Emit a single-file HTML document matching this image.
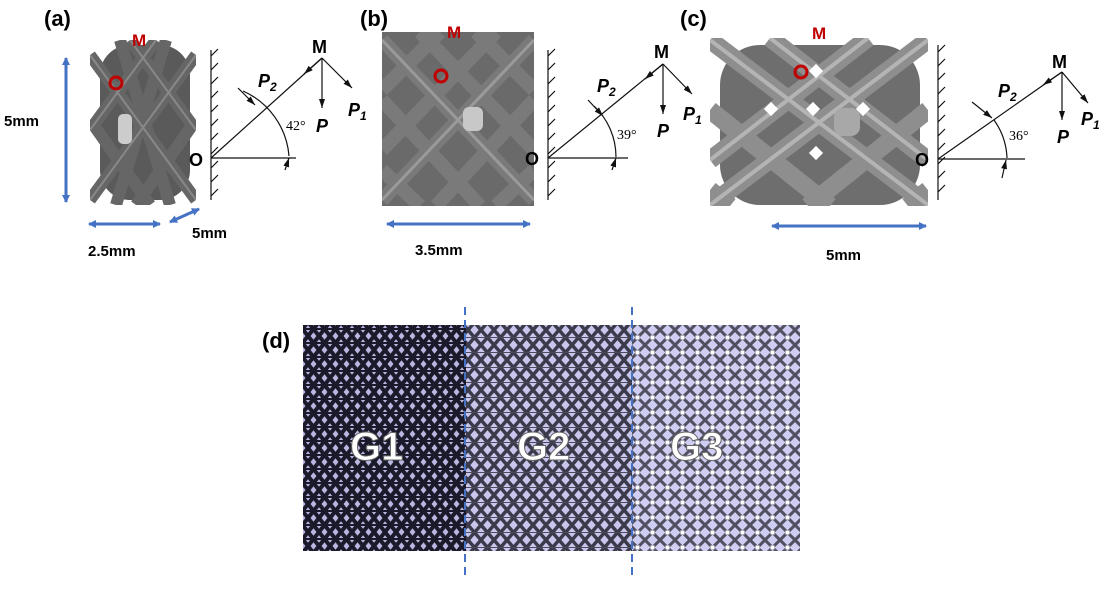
<!DOCTYPE html>
<html><head><meta charset="utf-8"><style>
html,body{margin:0;padding:0;background:#fff;}
svg{display:block;font-family:"Liberation Sans",Arial,sans-serif;}
</style></head><body>
<svg width="1113" height="590" viewBox="0 0 1113 590" xmlns="http://www.w3.org/2000/svg">
<defs>
<marker id="ab" markerWidth="8" markerHeight="8" refX="7" refY="4" orient="auto-start-reverse" markerUnits="userSpaceOnUse"><path d="M0,0 L8,4 L0,8 z" fill="#4472c4"/></marker>
<marker id="ak" markerWidth="9" markerHeight="7" refX="9" refY="3.5" orient="auto" markerUnits="userSpaceOnUse"><path d="M0,0.5 L9,3.5 L0,6.5 z" fill="#111"/></marker>
<pattern id="g1" width="11" height="14" patternUnits="userSpaceOnUse">
<rect width="11" height="14" fill="#b9b6e0"/>
<path d="M0,0 L11,14 M11,0 L0,14 M-5.5,7 L5.5,21 M5.5,-7 L16.5,7 M5.5,7 L-5.5,21 M16.5,7 L5.5,-7" stroke="#1a1a2a" stroke-width="4"/>
<path d="M0,7 L11,7" stroke="#1a1a2a" stroke-width="2"/>
</pattern>
<pattern id="g2" width="13" height="15" patternUnits="userSpaceOnUse">
<rect width="13" height="15" fill="#c8c6ec"/>
<path d="M0,0 L13,15 M13,0 L0,15" stroke="#3a3a4a" stroke-width="3.5"/>
<path d="M0,7.5 L13,7.5" stroke="#4a4a5a" stroke-width="1"/>
</pattern>
<pattern id="g3" width="15" height="15" patternUnits="userSpaceOnUse">
<rect width="15" height="15" fill="#cfcdf2"/>
<path d="M0,0 L15,15 M15,0 L0,15" stroke="#505060" stroke-width="3"/>
<rect x="5.5" y="5.5" width="4" height="4" fill="#fff"/>
</pattern>
<clipPath id="ca"><path d="M90,40 L196,40 L196,205 L90,205 Z"/></clipPath>
<clipPath id="cb"><rect x="382" y="32" width="152" height="174"/></clipPath>
<clipPath id="cc"><rect x="710" y="38" width="218" height="168"/></clipPath>
</defs>

<!-- labels -->
<text x="44" y="26" font-size="22" font-weight="bold">(a)</text>
<text x="360" y="26" font-size="22" font-weight="bold">(b)</text>
<text x="680" y="26" font-size="22" font-weight="bold">(c)</text>
<text x="262" y="348" font-size="22" font-weight="bold">(d)</text>

<!-- lattice a -->
<g clip-path="url(#ca)">
<rect x="100" y="45" width="90" height="155" rx="30" fill="#5a5a5a"/>
<g stroke="#666" stroke-width="12" stroke-linecap="butt">
<path d="M90,55 L196,200 M90,120 L150,205 M130,40 L196,130 M196,55 L90,200 M196,120 L136,205 M156,40 L90,130 M120,40 L170,205 M166,40 L116,205"/>
</g>
<g stroke="#888" stroke-width="2">
<path d="M90,55 L196,200 M196,55 L90,200 M130,40 L196,130 M156,40 L90,130"/>
</g>
<rect x="118" y="114" width="14" height="30" rx="5" fill="#ccc"/>
</g>
<text x="132" y="46" font-size="17" font-weight="bold" fill="#c00000">M</text>
<circle cx="116" cy="83" r="6" fill="none" stroke="#c00000" stroke-width="3"/>

<!-- lattice b -->
<g clip-path="url(#cb)">
<rect x="382" y="32" width="152" height="174" fill="#6a6a6a"/>
<g stroke="#7a7a7a" stroke-width="14">
<path d="M382,40 L534,200 M382,100 L480,206 M420,32 L534,150 M534,40 L382,200 M534,100 L436,206 M496,32 L382,150 M382,170 L420,206 M534,170 L496,206 M440,32 L382,90 M476,32 L534,90"/>
</g>
<g stroke="#9a9a9a" stroke-width="3"><path d="M382,40 L534,200 M534,40 L382,200"/></g>
<rect x="463" y="107" width="20" height="24" rx="6" fill="#c8c8c8"/>
</g>
<text x="447" y="38" font-size="17" font-weight="bold" fill="#c00000">M</text>
<circle cx="441" cy="76" r="6" fill="none" stroke="#c00000" stroke-width="3"/>

<!-- lattice c -->
<g clip-path="url(#cc)">
<rect x="720" y="45" width="200" height="160" rx="40" fill="#6e6e6e"/>
<g stroke="#8e8e8e" stroke-width="18">
<path d="M710,40 L928,205 M710,110 L830,206 M770,38 L928,160 M928,40 L710,205 M928,110 L808,206 M868,38 L710,160 M710,190 L730,206 M928,190 L908,206"/>
</g>
<g stroke="#b4b4b4" stroke-width="4"><path d="M710,40 L928,205 M928,40 L710,205 M770,38 L928,160 M868,38 L710,160"/></g>
<g fill="#fff"><rect x="766" y="104" width="10" height="10" transform="rotate(45 771 109)"/><rect x="808" y="104" width="10" height="10" transform="rotate(45 813 109)"/><rect x="858" y="104" width="10" height="10" transform="rotate(45 863 109)"/><rect x="811" y="148" width="10" height="10" transform="rotate(45 816 153)"/><rect x="811" y="66" width="10" height="10" transform="rotate(45 816 71)"/></g>
<rect x="834" y="108" width="26" height="28" rx="9" fill="#a8a8a8"/>
</g>
<text x="812" y="39" font-size="17" font-weight="bold" fill="#c00000">M</text>
<circle cx="801" cy="72" r="6" fill="none" stroke="#c00000" stroke-width="3"/>

<!-- dimension arrows -->
<g stroke="#4472c4" stroke-width="3" fill="none">
<line x1="66" y1="58" x2="66" y2="202" marker-start="url(#ab)" marker-end="url(#ab)"/>
<line x1="89" y1="224" x2="160" y2="224" marker-start="url(#ab)" marker-end="url(#ab)"/>
<line x1="170" y1="222" x2="199" y2="209" marker-start="url(#ab)" marker-end="url(#ab)"/>
<line x1="387" y1="224" x2="530" y2="224" marker-start="url(#ab)" marker-end="url(#ab)"/>
<line x1="772" y1="226" x2="926" y2="226" marker-start="url(#ab)" marker-end="url(#ab)"/>
</g>
<g font-size="15" font-weight="bold">
<text x="4" y="126">5mm</text>
<text x="88" y="256">2.5mm</text>
<text x="192" y="238">5mm</text>
<text x="415" y="255">3.5mm</text>
<text x="826" y="260">5mm</text>
</g>

<!-- force diagrams -->
<g id="fa" stroke="#111" stroke-width="1.2" fill="none">
<line x1="211" y1="50" x2="211" y2="200"/>
<path d="M211,56 l7,-7 M211,70 l7,-7 M211,84 l7,-7 M211,98 l7,-7 M211,112 l7,-7 M211,126 l7,-7 M211,140 l7,-7 M211,154 l7,-7 M211,168 l7,-7 M211,182 l7,-7 M211,196 l7,-7"/>
<line x1="211" y1="158" x2="296" y2="158"/>
<line x1="211" y1="158" x2="322" y2="58"/>
<line x1="322" y1="58" x2="304" y2="74" marker-end="url(#ak)"/>
<line x1="322" y1="58" x2="322" y2="108" marker-end="url(#ak)"/>
<line x1="322" y1="58" x2="352" y2="88" marker-end="url(#ak)"/>
<path d="M243,91 A78,78 0 0 1 289,156"/>
<line x1="285" y1="170" x2="289" y2="158" marker-end="url(#ak)"/>
<line x1="238" y1="88" x2="255" y2="105" marker-end="url(#ak)"/>
</g>
<g font-weight="bold" font-size="18">
<text x="189" y="166">O</text>
<text x="312" y="53">M</text>
<text x="258" y="87" font-style="italic">P<tspan font-size="12" dy="4">2</tspan></text>
<text x="348" y="116" font-style="italic">P<tspan font-size="12" dy="4">1</tspan></text>
<text x="316" y="132" font-style="italic">P</text>
</g>
<text x="286" y="130" font-size="14" font-family="Liberation Serif,serif">42°</text>

<g stroke="#111" stroke-width="1.2" fill="none">
<line x1="548" y1="50" x2="548" y2="200"/>
<path d="M548,56 l7,-7 M548,70 l7,-7 M548,84 l7,-7 M548,98 l7,-7 M548,112 l7,-7 M548,126 l7,-7 M548,140 l7,-7 M548,154 l7,-7 M548,168 l7,-7 M548,182 l7,-7 M548,196 l7,-7"/>
<line x1="548" y1="158" x2="628" y2="158"/>
<line x1="548" y1="158" x2="663" y2="64"/>
<line x1="663" y1="64" x2="645" y2="79" marker-end="url(#ak)"/>
<line x1="663" y1="64" x2="663" y2="114" marker-end="url(#ak)"/>
<line x1="663" y1="64" x2="692" y2="94" marker-end="url(#ak)"/>
<path d="M594,106 A70,70 0 0 1 616,157"/>
<line x1="612" y1="170" x2="616" y2="158" marker-end="url(#ak)"/>
<line x1="588" y1="100" x2="603" y2="116" marker-end="url(#ak)"/>
</g>
<g font-weight="bold" font-size="18">
<text x="525" y="165">O</text>
<text x="654" y="58">M</text>
<text x="597" y="92" font-style="italic">P<tspan font-size="12" dy="4">2</tspan></text>
<text x="683" y="120" font-style="italic">P<tspan font-size="12" dy="4">1</tspan></text>
<text x="657" y="137" font-style="italic">P</text>
</g>
<text x="617" y="139" font-size="14" font-family="Liberation Serif,serif">39°</text>

<g stroke="#111" stroke-width="1.2" fill="none">
<line x1="938" y1="45" x2="938" y2="200"/>
<path d="M938,52 l7,-7 M938,66 l7,-7 M938,80 l7,-7 M938,94 l7,-7 M938,108 l7,-7 M938,122 l7,-7 M938,136 l7,-7 M938,150 l7,-7 M938,164 l7,-7 M938,178 l7,-7 M938,192 l7,-7"/>
<line x1="938" y1="159" x2="1025" y2="159"/>
<line x1="938" y1="159" x2="1062" y2="72"/>
<line x1="1062" y1="72" x2="1043" y2="85" marker-end="url(#ak)"/>
<line x1="1062" y1="72" x2="1062" y2="120" marker-end="url(#ak)"/>
<line x1="1062" y1="72" x2="1088" y2="103" marker-end="url(#ak)"/>
<path d="M994,120 A70,70 0 0 1 1007,158"/>
<line x1="1002" y1="178" x2="1006" y2="160" marker-end="url(#ak)"/>
<line x1="972" y1="102" x2="992" y2="118" marker-end="url(#ak)"/>
</g>
<g font-weight="bold" font-size="18">
<text x="915" y="166">O</text>
<text x="1052" y="68">M</text>
<text x="998" y="97" font-style="italic">P<tspan font-size="12" dy="4">2</tspan></text>
<text x="1081" y="125" font-style="italic">P<tspan font-size="12" dy="4">1</tspan></text>
<text x="1057" y="143" font-style="italic">P</text>
</g>
<text x="1009" y="140" font-size="14" font-family="Liberation Serif,serif">36°</text>

<!-- (d) -->
<rect x="303" y="325" width="163" height="226" fill="url(#g1)"/>
<rect x="466" y="325" width="166" height="226" fill="url(#g2)"/>
<rect x="632" y="325" width="168" height="226" fill="url(#g3)"/>
<line x1="465" y1="307" x2="465" y2="578" stroke="#4472c4" stroke-width="2" stroke-dasharray="8,5"/>
<line x1="632" y1="307" x2="632" y2="578" stroke="#4472c4" stroke-width="2" stroke-dasharray="8,5"/>
<g font-size="40" font-weight="bold" fill="#fff" stroke="#666" stroke-width="1">
<text x="350" y="460">G1</text>
<text x="517" y="460">G2</text>
<text x="670" y="460">G3</text>
</g>
</svg>
</body></html>
